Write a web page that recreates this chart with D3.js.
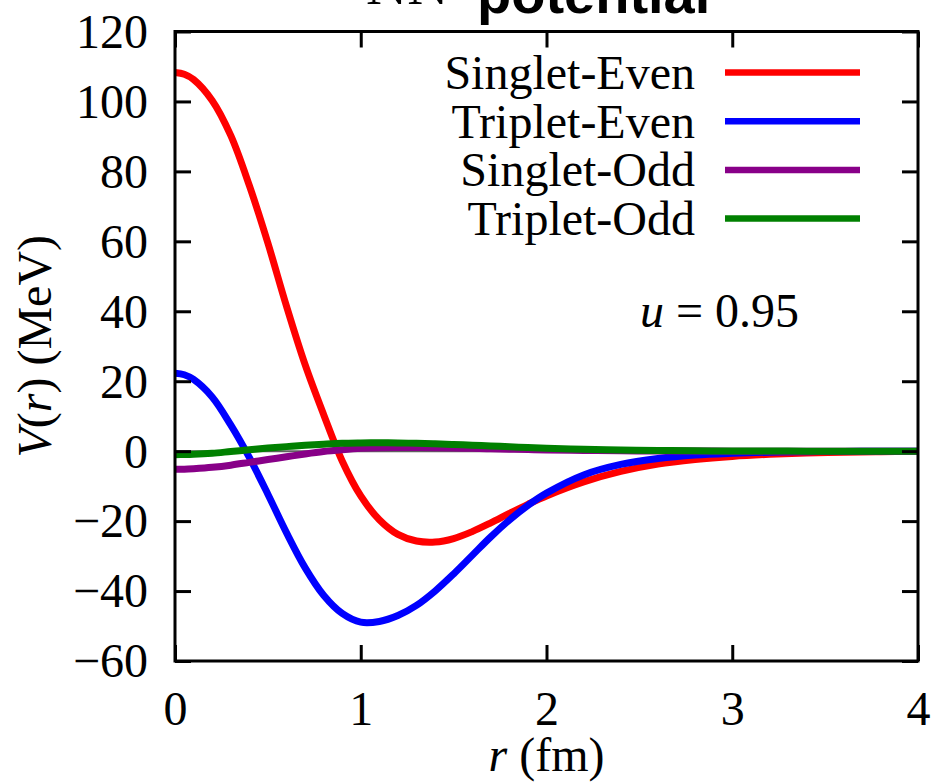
<!DOCTYPE html>
<html>
<head>
<meta charset="utf-8">
<script src="https://cdn.jsdelivr.net/npm/d3@7"></script>
<style>
  html, body { margin: 0; padding: 0; background: #fff; }
  svg { display: block; }
  text { font-family: "Liberation Serif", "Times New Roman", serif; fill: #000; }
</style>
</head>
<body>
<svg id="chart" width="935" height="782"></svg>
<script>
// Radial grid (fm)
const rValues = [0, 0.05, 0.1, 0.2, 0.3, 0.4, 0.5, 0.6, 0.7, 0.8, 0.9, 1.0, 1.1, 1.2, 1.3, 1.4, 1.5,
                 1.6, 1.7, 1.8, 1.9, 2.0, 2.2, 2.4, 2.6, 2.8, 3.0, 3.2, 3.4, 3.6, 3.8, 4.0];

// Potentials V(r) in MeV for each channel
const singletEven = [108.3, 107.8, 106.3, 100.3, 90.3, 76.0, 59.5, 41.5, 24.8, 10.5, -2.8, -12.8, -19.6,
                     -23.8, -25.7, -26.0, -25.0, -23.0, -20.5, -17.8, -15.2, -12.8, -8.8, -5.8,
                     -3.7, -2.4, -1.5, -0.9, -0.5, -0.3, -0.15, -0.1];
const tripletEven = [22.3, 21.85, 20.5, 15.5, 7.5, -1.8, -12.3, -23.3, -33.3, -41.2, -46.4, -48.9, -48.7,
                     -47.0, -44.1, -40.0, -35.1, -29.8, -24.5, -19.7, -15.5, -12.0, -6.8, -3.8,
                     -2.1, -1.1, -0.6, -0.3, -0.15, -0.08, -0.04, -0.02];
const singletOdd  = [-5.2, -5.15, -5.0, -4.6, -4.0, -3.2, -2.4, -1.6, -0.8, -0.1, 0.4, 0.8, 1.0,
                     1.05, 1.05, 1.0, 0.9, 0.8, 0.7, 0.55, 0.45, 0.35, 0.2, 0.1,
                     0.05, 0.02, 0.01, 0, 0, 0, 0, 0];
const tripletOdd  = [-1.0, -0.97, -0.9, -0.6, -0.1, 0.4, 0.9, 1.3, 1.7, 2.0, 2.25, 2.35, 2.4,
                     2.35, 2.25, 2.1, 1.9, 1.7, 1.5, 1.25, 1.05, 0.85, 0.55, 0.35,
                     0.2, 0.1, 0.05, 0.02, 0.01, 0, 0, 0];

const seriesNames  = ["Singlet-Even", "Triplet-Even", "Singlet-Odd", "Triplet-Odd"];
const seriesColors = ["#ff0000", "#0000ff", "#880088", "#008000"];
const seriesValues = [singletEven, tripletEven, singletOdd, tripletOdd];

const xTicks = [0, 1, 2, 3, 4];
const yTicks = [-60, -40, -20, 0, 20, 40, 60, 80, 100, 120];

const svg = d3.select("#chart");
const plotLeft = 175, plotRight = 918, plotTop = 31.5, plotBottom = 661;

const x = d3.scaleLinear().domain([0, 4]).range([plotLeft, plotRight]);
const y = d3.scaleLinear().domain([-60, 120]).range([plotBottom, plotTop]);

// Title (only its lower part falls inside the canvas)
svg.append("text").attr("x", 366).attr("y", 4).attr("font-size", 57).text("NN");
svg.append("text").attr("x", 477).attr("y", 13)
  .style("font-family", "'Liberation Sans', Arial, sans-serif")
  .attr("font-weight", "bold").attr("font-size", 56).text("potential");

svg.append("clipPath").attr("id", "plotClip")
  .append("rect").attr("x", plotLeft).attr("y", plotTop)
  .attr("width", plotRight - plotLeft).attr("height", plotBottom - plotTop);

// Zero axis
svg.append("line")
  .attr("x1", plotLeft).attr("x2", plotRight)
  .attr("y1", y(0)).attr("y2", y(0))
  .attr("stroke", "#606060").attr("stroke-width", 2);

// Curves
const line = d3.line()
  .x(d => x(d[0]))
  .y(d => y(d[1]))
  .curve(d3.curveCatmullRom.alpha(0.5));

const curves = svg.append("g").attr("clip-path", "url(#plotClip)");
seriesValues.forEach((vals, i) => {
  curves.append("path")
    .datum(rValues.map((r, k) => [r, vals[k]]))
    .attr("d", line)
    .attr("fill", "none")
    .attr("stroke", seriesColors[i])
    .attr("stroke-width", 7)
    .attr("stroke-linejoin", "round");
});

// Axes with inward ticks on all four sides
const tickLen = 16;
const axisBottom = d3.axisBottom(x).tickValues(xTicks).tickSize(-tickLen).tickFormat(d => d);
const axisTop = d3.axisTop(x).tickValues(xTicks).tickSize(-tickLen).tickFormat("");
const axisLeft = d3.axisLeft(y).tickValues(yTicks).tickSize(-tickLen)
  .tickFormat(d => (d < 0 ? "\u2212" + Math.abs(d) : String(d)));
const axisRight = d3.axisRight(y).tickValues(yTicks).tickSize(-tickLen).tickFormat("");

function styleAxis(g) {
  g.select(".domain").remove();
  g.selectAll(".tick line").attr("stroke", "#000").attr("stroke-width", 3);
  g.selectAll(".tick text")
    .attr("font-size", 48)
    .style("font-family", "'Liberation Serif', 'Times New Roman', serif")
    .attr("fill", "#000");
}

svg.append("g").attr("transform", `translate(0,${plotBottom})`).call(axisBottom).call(styleAxis)
  .call(g => g.selectAll(".tick text").attr("y", 64).attr("dy", 0));
svg.append("g").attr("transform", `translate(0,${plotTop})`).call(axisTop).call(styleAxis);
svg.append("g").attr("transform", `translate(${plotLeft},0)`).call(axisLeft).call(styleAxis)
  .call(g => g.selectAll(".tick text").attr("x", -27).attr("dy", "0.33em"));
svg.append("g").attr("transform", `translate(${plotRight},0)`).call(axisRight).call(styleAxis);

// Border
svg.append("rect")
  .attr("x", plotLeft).attr("y", plotTop)
  .attr("width", plotRight - plotLeft).attr("height", plotBottom - plotTop)
  .attr("fill", "none").attr("stroke", "#000").attr("stroke-width", 3);

// Axis labels
const xl = svg.append("text").attr("x", (plotLeft + plotRight) / 2).attr("y", 771)
  .attr("text-anchor", "middle").attr("font-size", 48);
xl.append("tspan").attr("font-style", "italic").text("r");
xl.append("tspan").text(" (fm)");

const yl = svg.append("text")
  .attr("transform", `translate(51,${(plotTop + plotBottom) / 2}) rotate(-90)`)
  .attr("text-anchor", "middle").attr("font-size", 48);
yl.append("tspan").attr("font-style", "italic").text("V");
yl.append("tspan").text("(");
yl.append("tspan").attr("font-style", "italic").text("r");
yl.append("tspan").text(") (MeV)");

// Legend
const legend = svg.append("g");
seriesNames.forEach((name, i) => {
  const by = 89 + i * 48.7;
  legend.append("text").attr("x", 695).attr("y", by)
    .attr("text-anchor", "end").attr("font-size", 48).text(name);
  legend.append("line")
    .attr("x1", 725).attr("x2", 860)
    .attr("y1", by - 16.5).attr("y2", by - 16.5)
    .attr("stroke", seriesColors[i]).attr("stroke-width", 6.5);
});

// Parameter annotation
const ann = svg.append("text").attr("x", 640).attr("y", 327).attr("font-size", 48);
ann.append("tspan").attr("font-style", "italic").text("u");
ann.append("tspan").text(" = 0.95");
</script>
</body>
</html>
